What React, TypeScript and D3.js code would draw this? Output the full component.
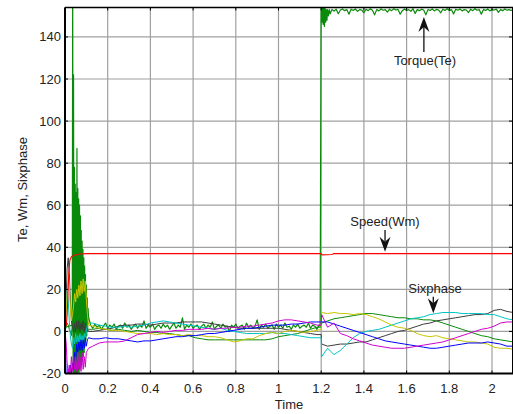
import React from "react";
import * as d3 from "d3";

// ---- axis ticks ----
const xTicks = [0, 0.2, 0.4, 0.6, 0.8, 1, 1.2, 1.4, 1.6, 1.8, 2];
const yTicks = [-20, 0, 20, 40, 60, 80, 100, 120, 140];

// ---- torque (Te) ----
const torqueStartT = [0, 0.001, 0.002, 0.034, 0.036, 0.038, 0.04, 0.042, 0.044, 0.046, 0.048, 0.05, 0.052, 0.054, 0.056, 0.058, 0.06, 0.062, 0.064, 0.066, 0.068, 0.07, 0.072, 0.074, 0.076, 0.078, 0.08, 0.082, 0.084, 0.086, 0.088, 0.09, 0.092, 0.094, 0.096, 0.098, 0.1, 0.102, 0.104, 0.106, 0.108, 0.11];
const torqueStartV = [170, 170, 2, 3, 170, -22, 122, -20, 78, -22, 70, -20, 66, -20, 87, -20, 68, -19, 63, -20, 60, -18, 55, -17, 48, -16, 43, -14, 39, -12, 35, -10, 31, -7, 27, -4, 22, -2, 16, 0, 11, 7];
// sampled every 0.01 from t = 0.12
const torqueMidV = [
  3, 1.5, 3.5, 2, 3, 1, 2.5, 4, 1.5, 3,
  2, 3.5, 1, 2.5, 3, 1.5, 4, 2, 3, 1,
  2.5, 3.5, 1.5, 3, 2, 5, 1.5, 3, 2, 3.5,
  1, 2.5, 3, 1.5, 3.5, 2, 3, 1, 2.5, 4,
  1.5, 3, 2, 6.5, 1, 3, 2, 3.5, 1.5, 2.5,
  3, 1, 2.5, 3.5, 1.5, 3, 2, 4.5, 1, 2.5,
  3, 1.5, 3.5, 2, 2.5, 0, 3, 2, 3.5, 1.5,
  2.5, 3, 1, 4, 2, 3, 1.5, 2.5, 5.5, 1,
  3, 2, 3.5, 1.5, 2.5, 3, 1, 3.5, 2, 3,
  1.5, 4, 2, 2.5, 1, 3, 2, 3.5, 1.5, 2.5,
  3, 2, 4, 1.5, 3, 2.5, 1, 3,
];
const torqueJumpT = [1.195, 1.2, 1.203, 1.206, 1.209, 1.212, 1.215, 1.218, 1.221, 1.224, 1.227, 1.23, 1.234, 1.238, 1.242];
const torqueJumpV = [2.5, 175, 147, 154, 146, 154, 145, 154, 147, 153, 148, 153, 150, 153, 151];
// sampled every 0.01 from t = 1.25
const torqueEndV = [
  153, 152.3, 153.2, 151, 152.8, 153.3, 152.5, 153, 150.8, 153.2,
  152.6, 153.3, 152.2, 153, 152.8, 151.5, 153.2, 152.5, 153.4, 152.7,
  150.5, 153, 152.4, 153.3, 152.7, 153, 151.8, 153.2, 152.5, 153.4,
  152.8, 153.1, 150.8, 152.5, 153.3, 152.6, 153, 152.2, 153.4, 151.2,
  153, 152.5, 153.2, 152.8, 150.5, 153, 152.6, 153.3, 152.4, 153.1,
  152.8, 151.5, 153.2, 152.6, 153.4, 152.5, 153, 150.9, 153.2, 152.7,
  153.3, 152.4, 153, 152.8, 151.6, 153.2, 152.5, 153.4, 152.7, 153,
  150.8, 153.1, 152.6, 153.3, 152.4, 153, 152.8, 153.2, 151.7, 153,
  152.5, 153.3, 152.7, 153, 152.6, 153.2,
];

// ---- speed (Wm) ----
const speedT = [0, 0.006, 0.01, 0.014, 0.018, 0.023, 0.03, 0.047, 0.07, 0.1, 1.2, 1.203, 1.25, 1.26, 2.1];
const speedV = [2, 3, 8, 18, 28, 34, 35.5, 36.3, 36.8, 37, 37, 36.4, 36.6, 37, 37];

// ---- six phase currents: sample times ----
const phaseTime = [
  ...d3.range(23).map((i) => i * 0.005),
  ...d3.range(36).map((i) => 0.13 + i * 0.03),
  1.2, 1.202,
  ...d3.range(30).map((i) => 1.23 + i * 0.03),
];

const phaseYellow = [
  0, 8, 18, 28, 22, 12, 5, 8, 12, 18, 14, 20, 16, 22, 17, 24, 18, 25, 19, 24, 15, 8, 3,
  2.5, 1.5, 1, 0.5, 0.5, 0, -0.5, -1, -1, -1, -1.5, -1, -1.5, -1.5, -2, -1.5, -2, -2, -2.5, -2.5, -3, -4, -5, -4.5, -3.5, -3.5, -2, -1, -0.5, -1, 0, 0.5, 0, -0.5, 0, 0.5,
  1, 9,
  8.5, 9, 8.5, 8.5, 8, 8.5, 8, 7, 6, 4.5, 3, 2, 1.5, 0.5, -1, -2, -2.5, -2, -3, -3.5, -4, -4.5, -5, -5, -5.5, -6, -7.5, -8, -8, -8.5,
];
const phaseGreen = [
  0, 2, 4, 3, 1, 0, -2, 5, -5, 8, -8, 10, -6, 8, -4, 6, -2, 5, 0, 3, 2, 1, 1,
  1, 1.5, 1, 0.5, 1, 0.5, 0, 0.5, 0, -0.5, -0.5, -1, -1, -1.5, -2, -2, -3, -3.5, -4, -4, -4, -4, -4, -4, -4, -4, -4, -4, -3.5, -2.5, -2, -1.5, -1, 0, 1, 2,
  2, 4,
  5, 6, 6.5, 7, 7.5, 8, 8.5, 8.5, 8, 7.5, 7, 6.5, 6.5, 6, 6, 5.5, 5.5, 5, 4, 3, 2, 1, 0, -1, -2, -2.5, -3.5, -4, -4.5, -5,
];
const phaseCyan = [
  0, 10, 20, 15, 5, -2, -6, -8, -3, -6, -1, -5, -2, -5, -1, -5, -2, -5, -1, -4, 0, 3, 4,
  4, 3, 2.5, 2, 2, 2.5, 2, 2.5, 3, 4, 4.5, 5, 4.5, 4, 3.5, 3, 2.5, 2, 1.5, 1, 1.5, 0.5, 0, -0.5, -1, -1, -1, -1, -0.5, -1, -1, -1.5, -2, -2.5, -3, -3,
  -3, -12,
  -8, -11, -9, -6, -3, -1, 0, 0.5, 1, 2, 3, 4, 5, 6, 6.5, 7, 8, 8.5, 9, 9, 9, 8.5, 8.5, 8.5, 8.5, 8, 8, 7, 6, 5.5,
];
const phaseGray = [
  0, 15, 30, 35, 28, 15, 5, 2, 0, 4, 0, 5, 1, 5, 0, 4, 1, 5, 0, 4, 1, 1, 0,
  0, 0.5, 1, 1.5, 2.5, 3, 3, 3.5, 3.5, 3, 3.5, 4, 4, 4, 4.5, 4.5, 4.5, 4.5, 4, 3.5, 3, 2.5, 2, 1.5, 1.5, 1.5, 1.5, 1.5, 1.5, 1.5, 1, 0.5, 0, -0.5, -1, -1.5,
  -1.5, -6,
  -7, -6.5, -6, -6, -5.5, -5, -5, -4, -3, -2, -1, 0, 0.5, 1.5, 2.5, 3.5, 4, 5, 5.5, 6, 6.5, 7, 7.5, 8, 8, 8.5, 10, 10.5, 9.5, 9,
];
const phaseBlue = [
  0, -20, -25, -18, -22, -16, -20, -15, -18, -10, -14, -6, -10, -5, -9, -4, -9, -4, -8, -3, -7, -4, -3,
  -3.5, -3.5, -3, -3.5, -3.5, -4, -4.5, -5, -4.5, -4.5, -4, -3.5, -3, -2.5, -2.5, -2, -2, -1.5, -1, -1, -0.5, 0, 0.5, 1, 1.5, 1.5, 2, 2.5, 3, 3, 3, 3.5, 3.5, 4, 4.5, 4.5,
  4.5, 4.5,
  4.5, 3.5, 2.5, 1.5, 0.5, -0.5, -1.5, -2.5, -3.5, -4.5, -5, -5.5, -6, -6.5, -7, -7.5, -8, -8, -7.5, -7, -6.5, -6, -5.5, -5.5, -5.5, -5, -5.5, -6, -7, -7,
];
const phaseMagenta = [
  0, -5, -15, -20, -16, -20, -12, -19, -11, -18, -12, -19, -10, -18, -12, -19, -10, -18, -12, -17, -10, -9, -8,
  -7, -5.5, -5, -5, -5, -4.5, -3, -1.5, -1, -0.5, 0, -0.5, 0, 0.5, 0.5, 1, 1, 1, 1.5, 1, 1.5, 1.5, 2, 2, 2.5, 2.5, 3, 3.5, 4, 5, 5.5, 5.5, 5, 4.5, 4, 3,
  3, 8,
  2, 4, -1, -2, -3.5, -4.5, -5.5, -6.5, -7, -7.5, -8, -8, -8, -7.5, -7, -6.5, -6, -5.5, -5, -4, -3, -2, -1, 0, 1, 1.5, 2.5, 4, 4.5, 4.5,
];

// ---- annotations ----
const annLabels = ["Torque(Te)", "Speed(Wm)", "Sixphase"];
const annTextT = [1.686, 1.499, 1.733];
const annTextV = [126.7, 50.1, 18.3];
const annArrowT = [1.681, 1.499, 1.725];
const annArrowFromV = [132.9, 48.2, 16.5];
const annArrowToV = [149.5, 37.9, 8.6];

const FONT = "'Liberation Sans', Arial, Helvetica, sans-serif";

type P = [number, number];
const zip = (ts: number[], vs: number[]): P[] => ts.map((t, i) => [t, vs[i]] as P);
const grid = (start: number, step: number, vs: number[]): P[] => vs.map((v, i) => [start + i * step, v] as P);

export default function App() {
  const x = d3.scaleLinear().domain([0, 2.1]).range([65, 513.35]);
  const y = d3.scaleLinear().domain([-20, 154]).range([373.5, 7.5]);
  const line = d3.line<P>().x((d) => x(d[0])).y((d) => y(d[1]));

  const L = 65, R = 513, T = 7.5, B = 373.5;

  const torque: P[] = [
    ...zip(torqueStartT, torqueStartV),
    ...grid(0.12, 0.01, torqueMidV),
    ...zip(torqueJumpT, torqueJumpV),
    ...grid(1.25, 0.01, torqueEndV),
  ];
  const speed = zip(speedT, speedV);
  const phases: { color: string; data: number[] }[] = [
    { color: "#0a8a0a", data: phaseGreen },
    { color: "#3c3c3c", data: phaseGray },
    { color: "#00c4c4", data: phaseCyan },
    { color: "#c8c400", data: phaseYellow },
    { color: "#0000ff", data: phaseBlue },
    { color: "#d000d0", data: phaseMagenta },
  ];

  const arrowHead = (cx: number, tipY: number, down: boolean) => {
    const s = down ? -1 : 1;
    return `M${cx},${tipY} L${cx - 5.5},${tipY + s * 15} L${cx},${tipY + s * 10} L${cx + 5.5},${tipY + s * 15} Z`;
  };

  return (
    <svg
      width={513}
      height={414}
      style={{ position: "absolute", left: 0, top: 0, display: "block", background: "#fff" }}
      fontFamily={FONT}
    >
      <defs>
        <clipPath id="plotClip">
          <rect x={L} y={T} width={R - L} height={B - T} />
        </clipPath>
      </defs>
      <rect x={0} y={0} width={513} height={414} fill="#fff" />

      {/* grid */}
      <g stroke="#a0a0a0" strokeWidth={1.2}>
        {xTicks.filter((t) => t > 0).map((t) => (
          <line key={"gx" + t} x1={x(t)} x2={x(t)} y1={T} y2={B} />
        ))}
        {yTicks.filter((v) => v > -20).map((v) => (
          <line key={"gy" + v} x1={L} x2={R} y1={y(v)} y2={y(v)} />
        ))}
      </g>

      {/* data */}
      <g clipPath="url(#plotClip)" fill="none" strokeLinejoin="round">
        <path d={line(torque) || ""} stroke="#0a8a0a" strokeWidth={1.2} />
        {phases.map((p) => (
          <path key={p.color} d={line(zip(phaseTime, p.data)) || ""} stroke={p.color} strokeWidth={1} />
        ))}
        <path d={line(speed) || ""} stroke="#ff0000" strokeWidth={1.1} />
      </g>

      {/* axes box */}
      <g stroke="#000" fill="none">
        <line x1={L} x2={R} y1={T} y2={T} strokeWidth={1.5} />
        <line x1={L} x2={L} y1={T} y2={B} strokeWidth={2} />
        <line x1={L} x2={R} y1={B} y2={B} strokeWidth={2} />
        <line x1={R - 0.5} x2={R - 0.5} y1={T} y2={B} strokeWidth={1} />
        {xTicks.map((t) => (
          <g key={"tx" + t}>
            <line x1={x(t)} x2={x(t)} y1={B} y2={B - 3} />
            <line x1={x(t)} x2={x(t)} y1={T} y2={T + 3} />
          </g>
        ))}
        {yTicks.map((v) => (
          <g key={"ty" + v}>
            <line x1={L} x2={L + 3} y1={y(v)} y2={y(v)} />
            <line x1={R - 4} x2={R} y1={y(v)} y2={y(v)} />
          </g>
        ))}
      </g>

      {/* tick labels */}
      <g fontSize={13} fill="#222">
        {xTicks.map((t) => (
          <text key={"lx" + t} x={x(t)} y={393} textAnchor="middle">
            {String(t)}
          </text>
        ))}
        {yTicks.map((v) => (
          <text key={"ly" + v} x={61} y={y(v)} dy="0.35em" textAnchor="end">
            {String(v)}
          </text>
        ))}
        <text x={(L + R) / 2} y={409} textAnchor="middle">Time</text>
        <text transform={`translate(27,${(T + B) / 2 - 1}) rotate(-90)`} textAnchor="middle">
          Te, Wm, Sixphase
        </text>
      </g>

      {/* annotations */}
      <g fontSize={13} fill="#222">
        {annLabels.map((lab, i) => {
          const ax = x(annArrowT[i]);
          const y0 = y(annArrowFromV[i]);
          const y1 = y(annArrowToV[i]);
          const down = y1 > y0;
          return (
            <g key={lab}>
              <text x={x(annTextT[i])} y={y(annTextV[i])} textAnchor="middle">{lab}</text>
              <line x1={ax} x2={ax} y1={y0} y2={down ? y1 - 10 : y1 + 10} stroke="#111" strokeWidth={1.3} />
              <path d={arrowHead(ax, y1, down)} fill="#111" />
            </g>
          );
        })}
      </g>
    </svg>
  );
}
